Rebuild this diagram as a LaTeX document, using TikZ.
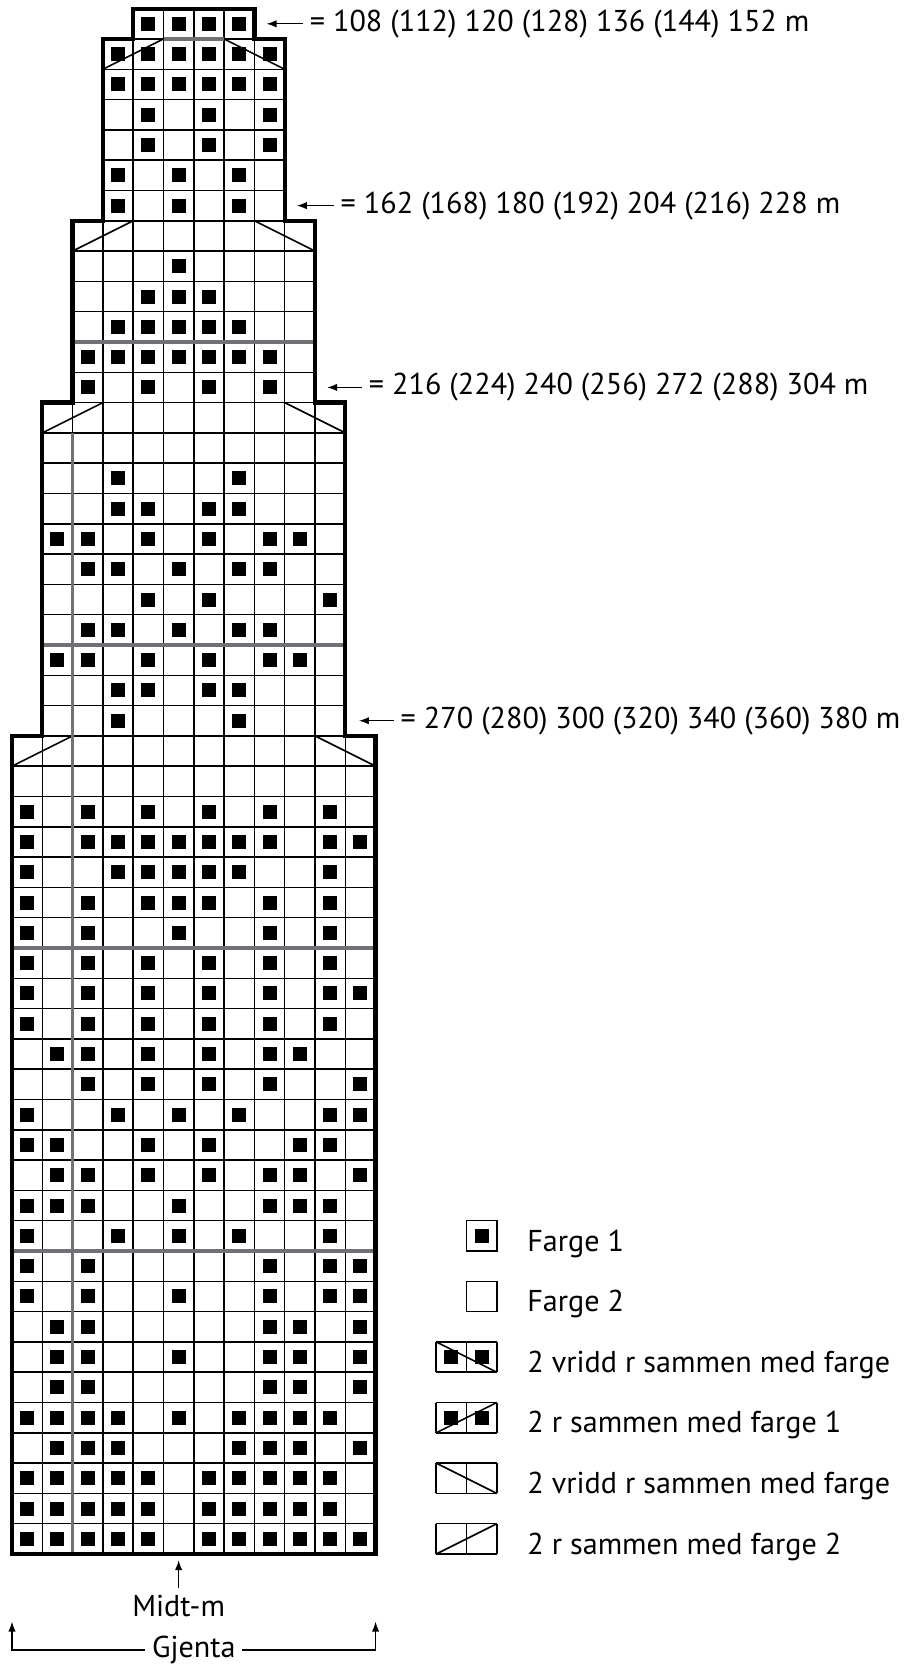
\documentclass[tikz,border=0pt]{standalone}
\usepackage{fontspec}
\setmainfont{PT Sans}
\usepackage{tikz}
\usetikzlibrary{arrows.meta}
\definecolor{repgray}{RGB}{112,112,117}
\tikzset{
  cellgrid/.style={line width=1.1pt, step=1},
  outline/.style={line width=3.2pt, line join=miter},
  repline/.style={line width=2.4pt, repgray},
  decline/.style={line width=1.2pt},
  fg/.style={fill=black},
  lbl/.style={font=\fontsize{22.6}{27}\selectfont, inner sep=5pt},
  lblarrow/.style={-{Latex[length=7.5pt,width=5.5pt]}, line width=1pt}
}

\begin{document}
\begin{tikzpicture}[x=22.725pt,y=22.725pt]
\fill[white] (-0.396,-3.696) rectangle (29.505,51.287);
\useasboundingbox (-0.396,-3.696) rectangle (29.505,51.287);
% chart cells
\draw[cellgrid] (4,50) grid (8,51);
\draw[cellgrid] (3,44) grid (9,50);
\draw[cellgrid] (2,38) grid (10,44);
\draw[cellgrid] (1,27) grid (11,38);
\draw[cellgrid] (0,0) grid (12,27);
\foreach \r/\cs in {1/{5,6,7,8}, 2/{4,5,6,7,8,9}, 3/{4,5,6,7,8,9}, 4/{5,7,9}, 5/{5,7,9},
    6/{4,6,8}, 7/{4,6,8}, 9/{6}, 10/{5,6,7}, 11/{4,5,6,7,8}, 12/{3,4,5,6,7,8,9},
    13/{3,5,7,9}, 16/{4,8}, 17/{4,5,7,8}, 18/{2,3,5,7,9,10}, 19/{3,4,6,8,9},
    20/{5,7,11}, 21/{3,4,6,8,9}, 22/{2,3,5,7,9,10}, 23/{4,5,7,8}, 24/{4,8},
    27/{1,3,5,7,9,11}, 28/{1,3,4,5,6,7,8,9,11,12}, 29/{1,4,5,6,7,8,11},
    30/{1,3,5,6,7,9,11}, 31/{1,3,6,9,11}, 32/{1,3,5,7,9,11}, 33/{1,3,5,7,9,11,12},
    34/{1,3,5,7,9,11}, 35/{2,3,5,7,9,10}, 36/{3,5,7,9,12}, 37/{1,4,6,8,11,12},
    38/{1,2,5,7,10,11}, 39/{2,3,5,7,9,10,12}, 40/{1,2,3,6,9,10,11}, 41/{1,4,6,8,11},
    42/{1,3,9,11,12}, 43/{1,3,6,9,11,12}, 44/{2,3,9,10,12}, 45/{2,3,6,9,10,12},
    46/{2,3,9,10,12}, 47/{1,2,3,4,6,8,9,10,11}, 48/{2,3,4,8,9,10,12},
    49/{1,2,3,4,5,7,8,9,10,11}, 50/{1,2,3,4,5,7,8,9,10,11}, 51/{1,2,3,4,5,7,8,9,10,11,12}}
  \foreach \c in \cs
    \fill[fg] (\c-0.73,51.27-\r) rectangle ++(0.46,0.46);
% decreases
\foreach \l/\r/\y in {3/9/49, 2/10/43, 1/11/37, 0/12/26} {
  \draw[decline] (\l,\y) -- ++(2,1);
  \draw[decline] (\r,\y) -- ++(-2,1);
}
% repeat lines
\draw[repline] (5,50) -- (7,50);
\draw[repline] (2,40) -- (10,40);
\draw[repline] (1,30) -- (11,30);
\draw[repline] (0,20) -- (12,20);
\draw[repline] (0,10) -- (12,10);
\draw[repline] (2,0) -- (2,37);
\draw[outline] (0,0) -- (12,0) -- (12,27) -- (11,27) -- (11,38) -- (10,38) -- (10,44)
  -- (9,44) -- (9,50) -- (8,50) -- (8,51) -- (4,51) -- (4,50) -- (3,50) -- (3,44)
  -- (2,44) -- (2,38) -- (1,38) -- (1,27) -- (0,27) -- cycle;
% stitch counts
\coordinate (e1) at (8.4,50.5);
\coordinate (e2) at (9.4,44.5);
\coordinate (e3) at (10.4,38.5);
\coordinate (e4) at (11.45,27.5);
\node[lbl, anchor=west] (m1) at (9.6,50.5) {= 108 (112) 120 (128) 136 (144) 152 m};
\node[lbl, anchor=west] (m2) at (10.62,44.5) {= 162 (168) 180 (192) 204 (216) 228 m};
\node[lbl, anchor=west] (m3) at (11.55,38.5) {= 216 (224) 240 (256) 272 (288) 304 m};
\node[lbl, anchor=west] (m4) at (12.6,27.5) {= 270 (280) 300 (320) 340 (360) 380 m};
\draw[lblarrow] (m1) -- (e1);
\draw[lblarrow] (m2) -- (e2);
\draw[lblarrow] (m3) -- (e3);
\draw[lblarrow] (m4) -- (e4);
% middle and repeat
\coordinate (mid) at (5.5,-0.2);
\coordinate (gl) at (0,-2.23);
\coordinate (gr) at (12,-2.23);
\node[lbl] (midt) at (5.5,-1.72) {Midt-m};
\node[lbl] (gjenta) at (6,-3.17) {Gjenta};
\draw[lblarrow] (midt) -- (mid);
\draw[lblarrow] (gjenta) -| (gl);
\draw[lblarrow] (gjenta) -| (gr);
% legend
\draw[cellgrid] (15,10) rectangle (16,11);
\fill[fg] (15.27,10.27) rectangle ++(0.46,0.46);
\draw[cellgrid] (15,8) rectangle (16,9);
\foreach \y in {0,2,4,6}
  \draw[cellgrid] (14,\y) grid (16,\y+1);
\foreach \y in {4,6} {
  \fill[fg] (14.27,\y+0.27) rectangle ++(0.46,0.46);
  \fill[fg] (15.27,\y+0.27) rectangle ++(0.46,0.46);
}
\draw[decline] (14,7) -- (16,6);
\draw[decline] (14,4) -- (16,5);
\draw[decline] (14,3) -- (16,2);
\draw[decline] (14,0) -- (16,1);
\foreach \y/\t [count=\i] in {10/Farge 1, 8/Farge 2, 6/2 vridd r sammen med farge,
    4/2 r sammen med farge 1, 2/2 vridd r sammen med farge, 0/2 r sammen med farge 2}
  \node[lbl, anchor=base west] (leg\i) at (16.78,\y) {\t};
\end{tikzpicture}
\end{document}
